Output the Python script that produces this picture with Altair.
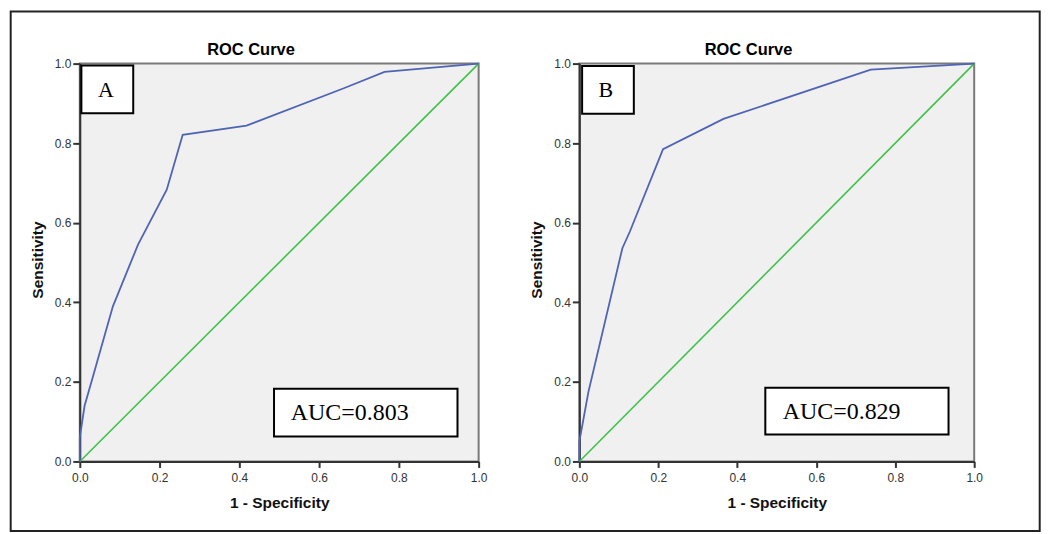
import altair as alt
import pandas as pd

# ---- data ----
fpr_a = [0.0, 0.0, 0.012, 0.030, 0.083, 0.146, 0.218, 0.258, 0.418, 0.662, 0.764, 1.0]
tpr_a = [0.0, 0.06, 0.14, 0.203, 0.390, 0.545, 0.683, 0.821, 0.844, 0.938, 0.979, 1.0]
fpr_b = [0.0, 0.0, 0.023, 0.109, 0.128, 0.212, 0.365, 0.738, 1.0]
tpr_b = [0.0, 0.05, 0.175, 0.536, 0.578, 0.785, 0.861, 0.985, 1.0]
diag_x = [0.0, 1.0]
diag_y = [0.0, 1.0]
tick_values = [0.0, 0.2, 0.4, 0.6, 0.8, 1.0]
panel_letters = ["A", "B"]
auc_labels = ["AUC=0.803", "AUC=0.829"]
title_text = "ROC Curve"
x_title = "1 - Specificity"
y_title = "Sensitivity"

# ---- annotation placement (data units) ----
letter_box = {
    "A": dict(x=0.004, x2=0.134, y=0.995, y2=0.875, tx=0.0655, ty=0.9165),
    "B": dict(x=0.007, x2=0.138, y=0.994, y2=0.874, tx=0.067, ty=0.9166),
}
auc_box = {
    "A": dict(x=0.487, x2=0.947, y=0.183, y2=0.063, tx=0.529, ty=0.105),
    "B": dict(x=0.471, x2=0.935, y=0.185, y2=0.068, tx=0.515, ty=0.107),
}

FONT = "Liberation Sans"
SERIF = "Liberation Serif"
BLUE = "#5064b4"
GREEN = "#3fc24a"


def panel(fpr, tpr, letter, auc, w, h, frame=False):
    xs = alt.Scale(domain=[0, 1], nice=False, zero=False)
    ys = alt.Scale(domain=[0, 1], nice=False, zero=False)
    xa = alt.Axis(values=tick_values, format=".1f", title=x_title, grid=False,
                  tickSize=6, labelPadding=5, labelFlush=False, titleX=w / 2, titleY=46,
                  titleBaseline="alphabetic", titleAlign="center")
    ya = alt.Axis(values=tick_values, format=".1f", title=y_title, grid=False,
                  tickSize=7, labelPadding=2, labelFlush=False, titleX=-37.8, titleY=h / 2 - 3,
                  titleBaseline="alphabetic", titleAlign="center", titleAngle=270)

    roc = pd.DataFrame({"x": fpr, "y": tpr, "i": list(range(len(fpr)))})
    diag = pd.DataFrame({"x": diag_x, "y": diag_y, "i": [0, 1]})

    X = alt.X("x:Q", scale=xs, axis=xa)
    Y = alt.Y("y:Q", scale=ys, axis=ya)

    l_diag = alt.Chart(diag).mark_line(color=GREEN, strokeWidth=1.6).encode(
        x=X, y=Y, order="i:Q")
    l_roc = alt.Chart(roc).mark_line(color=BLUE, strokeWidth=1.8).encode(
        x=X, y=Y, order="i:Q")

    lb = letter_box[letter]
    ab = auc_box[letter]
    boxes = pd.DataFrame({
        "x": [lb["x"], ab["x"]], "x2": [lb["x2"], ab["x2"]],
        "y": [lb["y"], ab["y"]], "y2": [lb["y2"], ab["y2"]],
    })
    r_boxes = alt.Chart(boxes).mark_rect(fill="white", stroke="black", strokeWidth=2).encode(
        x=X, x2="x2:Q", y=Y, y2="y2:Q")

    t_letter = alt.Chart(pd.DataFrame({"x": [lb["tx"]], "y": [lb["ty"]], "t": [letter]})).mark_text(
        font=SERIF, fontSize=22, align="center", baseline="alphabetic", color="black").encode(
        x=X, y=Y, text="t:N")
    t_auc = alt.Chart(pd.DataFrame({"x": [ab["tx"]], "y": [ab["ty"]], "t": [auc]})).mark_text(
        font=SERIF, fontSize=24, align="left", baseline="alphabetic", color="black").encode(
        x=X, y=Y, text="t:N")

    t_title = alt.Chart(pd.DataFrame({"t": [title_text]})).mark_text(
        font=FONT, fontSize=16.5, fontWeight="bold", align="center", baseline="alphabetic",
        color="black").encode(x=alt.value(w / 2 - 28.3), y=alt.value(-8.4), text="t:N")

    layers = [l_diag, l_roc, r_boxes, t_letter, t_auc, t_title]
    if frame:
        fr = alt.Chart(pd.DataFrame({"k": [0]})).mark_rect(
            fillOpacity=0, stroke="#222222", strokeWidth=2).encode(
            x=alt.value(-69.3), x2=alt.value(962.7), y=alt.value(-52.2), y2=alt.value(468.8))
        layers.append(fr)

    return alt.layer(*layers).properties(width=w, height=h)


pA = panel(fpr_a, tpr_a, panel_letters[0], auc_labels[0], 400, 399, frame=True)
pB = panel(fpr_b, tpr_b, panel_letters[1], auc_labels[1], 396, 399)

chart = alt.hconcat(pA, pB, spacing=101, bounds="flush").properties(
    padding=0, background="white"
).configure_view(
    stroke="#7a7a7a", strokeWidth=2, fill="#f0f0f0"
).configure_axis(
    domainColor="#333333", domainWidth=2, tickColor="#333333", tickWidth=2,
    labelFont=FONT, labelFontSize=12, labelColor="#333333",
    titleFont=FONT, titleFontSize=15.5, titleFontWeight="bold", titleColor="#111111",
)

chart.save("out.html", embed_options={"renderer": "svg", "actions": False})
